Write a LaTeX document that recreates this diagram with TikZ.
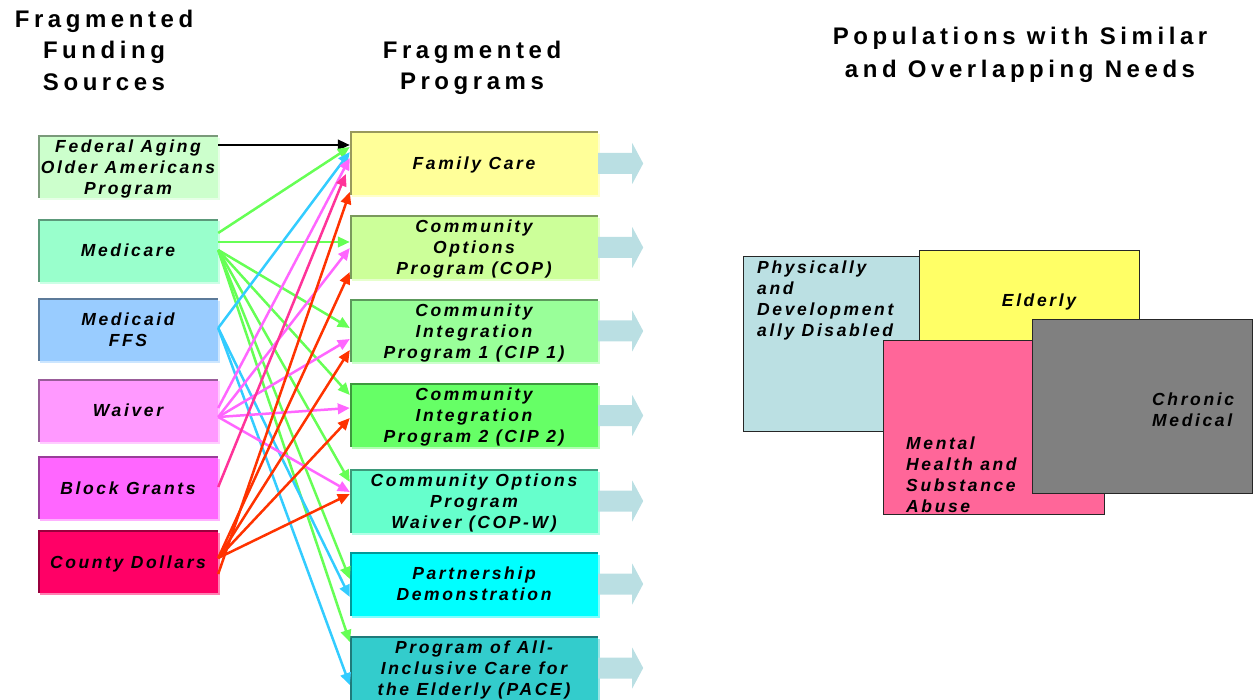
\documentclass[tikz,border=0pt]{standalone}
\usepackage{fontspec}
\setmainfont{Liberation Sans}
\newfontfamily\labfont[LetterSpace=15]{Liberation Sans}
\newfontfamily\ttlfont[LetterSpace=19]{Liberation Sans}
\usetikzlibrary{arrows.meta,shadows}
\definecolor{cFA}{HTML}{CCFFCC}
\definecolor{cMED}{HTML}{99FFCC}
\definecolor{cMCD}{HTML}{99CCFF}
\definecolor{cWV}{HTML}{FF99FF}
\definecolor{cBG}{HTML}{FF66FF}
\definecolor{cCD}{HTML}{FF0066}
\definecolor{cFC}{HTML}{FFFF99}
\definecolor{cCOP}{HTML}{CCFF99}
\definecolor{cCIPa}{HTML}{99FF99}
\definecolor{cCIPb}{HTML}{66FF66}
\definecolor{cCOPW}{HTML}{66FFCC}
\definecolor{cPART}{HTML}{00FFFF}
\definecolor{cPACE}{HTML}{33CCCC}
\definecolor{cArrow}{HTML}{BADFE3}
\definecolor{cPDD}{HTML}{BBE0E3}
\definecolor{cELD}{HTML}{FFFF66}
\definecolor{cMH}{HTML}{FF6699}
\definecolor{cCM}{HTML}{808080}
\definecolor{lGreen}{HTML}{66FF55}
\definecolor{lBlue}{HTML}{33CCFF}
\definecolor{lPink}{HTML}{FF66FF}
\definecolor{lDPink}{HTML}{FF3399}
\definecolor{lRed}{HTML}{FF3300}
\begin{document}
\begin{tikzpicture}[x=1pt,y=-1pt,
  lab/.style={font=\labfont\bfseries\itshape\fontsize{17.5}{21}\selectfont, align=center, inner sep=0pt, text depth=0pt},
  ttl/.style={font=\ttlfont\bfseries\fontsize{24}{31.5}\selectfont, align=center, inner sep=0pt, text depth=0pt},
  fbox/.style={fill=#1, draw=none,
    drop shadow={shadow xshift=2pt, shadow yshift=-2pt, fill=#1!50!white, opacity=1},
    path picture={\draw[#1!60!black, line width=3pt]
      (path picture bounding box.south west) -- (path picture bounding box.north west)
      -- (path picture bounding box.north east);}},
  srcbox/.style={fbox=#1, minimum width=180pt, minimum height=62.5pt},
  progbox/.style={fbox=#1, minimum width=248pt, minimum height=63pt},
  barrow/.style={fill=cArrow},
  conn/.style={line width=2.5pt, -{Triangle[length=12pt,width=10.5pt]}},
  popbox/.style={draw=black!85, line width=1pt},
  poplab/.style={lab, align=left, anchor=west}
]
\useasboundingbox (0,0) rectangle (1258,700);
% titles
\node[ttl] (t1) at (104,50) {Fragmented\\Funding\\Sources};
\node[ttl] (t2) at (472,65.5) {Fragmented\\Programs};
\node[ttl, font=\ttlfont\bfseries\fontsize{24}{33}\selectfont] (t3) at (1020,52.5) {Populations with Similar\\and Overlapping Needs};
% funding sources
\node[srcbox=cFA, lab] (fa) at (128,167) {Federal Aging\\Older Americans\\Program};
\node[srcbox=cMED, lab] (med) at (128,250.5) {Medicare};
\node[srcbox=cMCD, lab] (mcd) at (128,330) {Medicaid\\FFS};
\node[srcbox=cWV, lab] (wv) at (128,410.5) {Waiver};
\node[srcbox=cBG, lab] (bg) at (128,488) {Block Grants};
\node[srcbox=cCD, lab] (cd) at (128,562) {County Dollars};
% programs
\node[progbox=cFC, lab] (fc) at (474,163.5) {Family Care};
\node[progbox=cCOP, lab] (cop) at (474,247.5) {Community\\Options\\Program (COP)};
\node[progbox=cCIPa, lab] (cip1) at (474,331) {Community\\Integration\\Program 1 (CIP 1)};
\node[progbox=cCIPb, lab] (cip2) at (474,415.5) {Community\\Integration\\Program 2 (CIP 2)};
\node[progbox=cCOPW, lab] (copw) at (474,501) {Community Options\\Program\\Waiver (COP-W)};
\node[progbox=cPART, lab] (part) at (474,584) {Partnership\\Demonstration};
\node[progbox=cPACE, lab] (pace) at (474,668) {Program of All-\\Inclusive Care for\\the Elderly (PACE)};
% block arrows
\foreach \n in {fc,cop,cip1,cip2,copw,part,pace}
  \fill[barrow] (\n.east) ++(0,-10.5) -- ++(34,0) -- ++(0,-10) -- ++(11,20.5)
    -- ++(-11,20.5) -- ++(0,-10) -- ++(-34,0) -- cycle;
% connectors
\draw[conn, black] (fa.east |- 0,145) -- (fc.west |- 0,145);
\draw[conn, lGreen] (med.east |- 0,233) -- (fc.west |- 0,147);
\draw[conn, lGreen] (med.east |- 0,242) -- (cop.west |- 0,242);
\foreach \t/\y in {cip1/328, cip2/395, copw/482, part/579, pace/642}
  \draw[conn, lGreen] (med.east |- 0,250) -- (\t.west |- 0,\y);
\foreach \t/\y in {fc/152, part/597, pace/685}
  \draw[conn, lBlue] (mcd.east |- 0,328) -- (\t.west |- 0,\y);
\draw[conn, lPink] (wv.east |- 0,408) -- (fc.west |- 0,158);
\foreach \t/\y in {cop/248, cip1/339, cip2/408, copw/492}
  \draw[conn, lPink] (wv.east |- 0,417) -- (\t.west |- 0,\y);
\draw[conn, lDPink] (bg.east |- 0,487) -- ([xshift=-4pt]fc.west |- 0,174);
\draw[conn, lRed] (cd.east |- 0,574) -- (fc.west |- 0,192);
\foreach \t/\y in {cop/272, cip1/350, cip2/418, copw/494}
  \draw[conn, lRed] (cd.east |- 0,558) -- (\t.west |- 0,\y);
% populations
\draw[popbox, fill=cPDD] (743,257) rectangle (930,431);
\draw[popbox, fill=cELD] (919,251) rectangle (1139,400);
\draw[popbox, fill=cMH] (883,341) rectangle (1104,514);
\draw[popbox, fill=cCM] (1032,320) rectangle (1252,493);
\node[poplab] (pdd) at (757,298.5) {Physically\\and\\Development\\ally Disabled};
\node[lab] (eld) at (1039,300) {Elderly};
\node[poplab] (mh) at (906,474.5) {Mental\\Health and\\Substance\\Abuse};
\node[poplab] (cm) at (1152,409.5) {Chronic\\Medical};
\end{tikzpicture}
\end{document}
